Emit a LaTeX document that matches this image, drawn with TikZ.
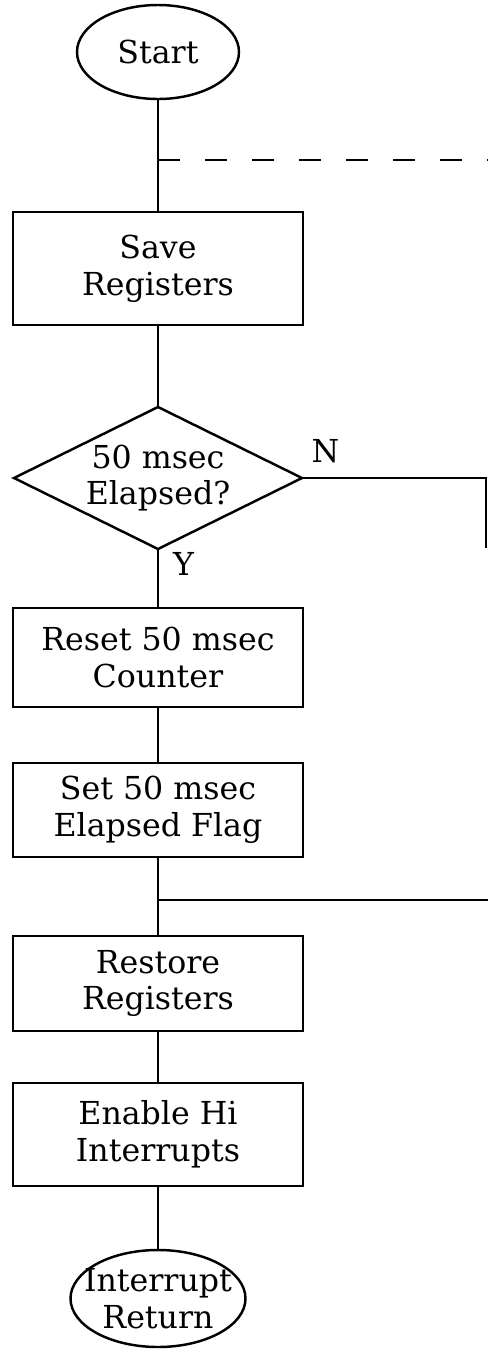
\documentclass[tikz,border=0pt]{standalone}
\usepackage{fontspec}
\setmainfont{DejaVu Serif}
\usetikzlibrary{positioning, shapes.geometric, calc}

\begin{document}
\begin{tikzpicture}[
    node distance=1cm,
    every node/.style={font=\fontsize{18}{21}\selectfont},
    proc/.style={draw, line width=1.4pt, outer sep=0pt, minimum width=5.8cm, align=center, inner sep=2pt},
    term/.style={draw, ellipse, line width=1.4pt, outer sep=0pt, align=center, inner sep=0pt},
    decide/.style={draw, diamond, aspect=2, line width=1.4pt, outer sep=0pt, minimum width=5.76cm, minimum height=2.84cm, align=center, inner sep=0pt},
    flow/.style={line width=1.4pt}]
  \useasboundingbox (0,0) rectangle (9.76,-26.98);
  \node[term, minimum width=3.24cm, minimum height=1.88cm] (start) at (3.16,-1.04) {Start};
  \node[proc, minimum height=2.26cm, below=2.26cm of start] (save) {Save\\Registers};
  \node[decide, below=1.64cm of save] (dec) {50 msec\\Elapsed?};
  \node[proc, minimum height=1.98cm, below=1.18cm of dec] (reset) {Reset 50 msec\\Counter};
  \node[proc, minimum height=1.88cm, below=1.12cm of reset] (setf) {Set 50 msec\\Elapsed Flag};
  \node[proc, minimum height=1.9cm, below=1.58cm of setf] (restore) {Restore\\Registers};
  \node[proc, minimum height=2.06cm, below=1.04cm of restore] (enable) {Enable Hi\\Interrupts};
  \node[term, minimum width=3.5cm, minimum height=1.94cm, below=1.28cm of enable,
    label={[align=center]center:Interrupt\\Return}] (ret) {};
  \node[above right=0.18cm and 0.07cm of dec.east] (nlab) {N};
  \node[below right=-0.06cm and 0.18cm of dec.south] (ylab) {Y};
  % free ends at the right edge
  \coordinate (tapend) at (9.76,-3.2);
  \coordinate (nend) at (9.72,-10.96);
  \coordinate (jend) at (9.76,-18);
  \draw[flow] (start) -- (save);
  \draw[flow, dash pattern=on 0.44cm off 0.5cm] (start.south |- tapend) -- (tapend);
  \draw[flow] (save) -- (dec);
  \draw[flow] (dec.east) -- (dec.east -| nend) -- (nend);
  \draw[flow] (dec) -- (reset);
  \draw[flow] (reset) -- (setf);
  \draw[flow] (setf) -- (restore);
  \draw[flow] (setf.south |- jend) -- (jend);
  \draw[flow] (restore) -- (enable);
  \draw[flow] (enable) -- (ret);
\end{tikzpicture}
\end{document}
